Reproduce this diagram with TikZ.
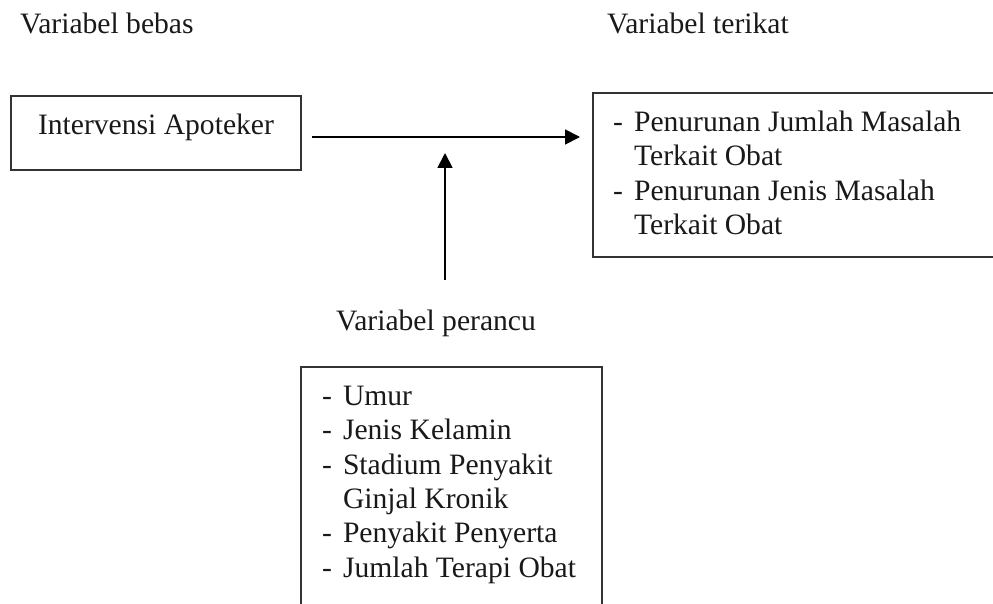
\documentclass[tikz,border=0pt]{standalone}
\usepackage{fontspec}
\setmainfont{Liberation Serif}
\usetikzlibrary{arrows.meta}

\begin{document}
\begin{tikzpicture}[x=1pt, y=-1pt,
    every node/.style={font=\fontsize{29.6}{34.4}\selectfont, text=black!90},
    kotak/.style={draw=black!80, line width=1.8pt, inner sep=0pt, outer sep=0pt},
    judul/.style={anchor=base west, inner sep=0pt},
    daftar/.style={anchor=north west, inner sep=0pt},
    panah/.style={-{Triangle[length=15pt, width=15pt]}, line width=1.8pt}]
  \useasboundingbox (0,0) rectangle (993,604);
  \node[judul] (bebas) at (20,34) {Variabel bebas};
  \node[judul] (terikat) at (607,34) {Variabel terikat};
  \node[kotak, minimum width=290pt, minimum height=74pt, text depth=18pt] (apoteker) at (156,133) {Intervensi Apoteker};
  \node[kotak, anchor=north west, minimum width=430pt, minimum height=164pt] (hasil) at (593,93) {};
  \node[daftar] (hasilisi) at ([shift={(20,14)}]hasil.north west) {%
    \begin{tabular}{@{}l@{\hspace{11pt}}l@{}}
      - & Penurunan Jumlah Masalah\\
        & Terkait Obat\\
      - & Penurunan Jenis Masalah\\
        & Terkait Obat
    \end{tabular}};
  \node[judul] (perancu) at (336,330) {Variabel perancu};
  \node[kotak, anchor=north west, minimum width=301pt, minimum height=290pt] (faktor) at (301,367) {};
  \node[daftar] (faktorisi) at ([shift={(21,14)}]faktor.north west) {%
    \begin{tabular}{@{}l@{\hspace{11pt}}l@{}}
      - & Umur\\
      - & Jenis Kelamin\\
      - & Stadium Penyakit\\
        & Ginjal Kronik\\
      - & Penyakit Penyerta\\
      - & Jumlah Terapi Obat
    \end{tabular}};
  \coordinate (awal) at ([shift={(11,4)}]apoteker.east);
  \coordinate (pangkal) at (445,280);
  \draw[panah, shorten >=13pt] (awal) -- (awal -| hasil.west);
  \draw[panah, shorten >=16pt] (pangkal) -- (pangkal |- awal);
\end{tikzpicture}
\end{document}
